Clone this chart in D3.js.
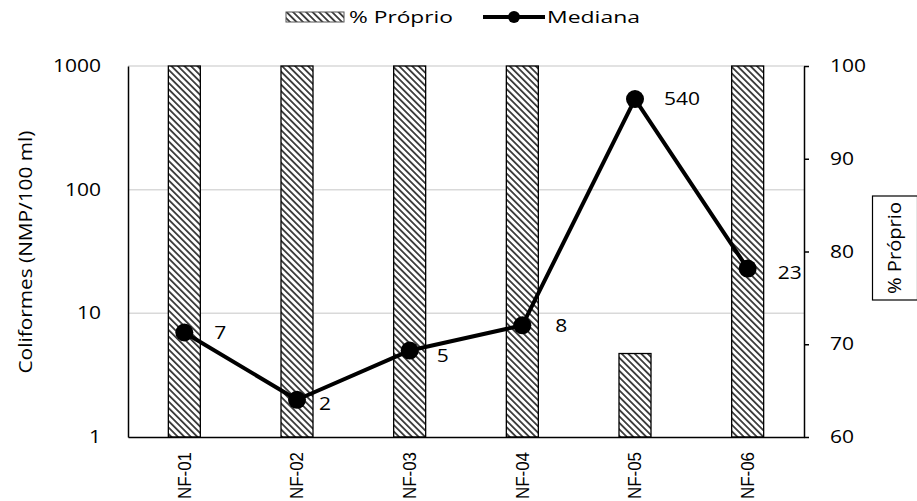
<!DOCTYPE html>
<html>
<head>
<meta charset="utf-8">
<script src="https://cdn.jsdelivr.net/npm/d3@7"></script>
<style>
  body { margin: 0; background: #fff; }
  svg { display: block; }
</style>
</head>
<body>
<svg id="chart" width="917" height="501"></svg>
<script>
// Sampling points
const categories = ["NF-01", "NF-02", "NF-03", "NF-04", "NF-05", "NF-06"];
// Share of samples within standard (%)
const proprio = [100, 100, 100, 100, 69, 100];
// Median coliforms (NMP/100 ml)
const mediana = [7, 2, 5, 8, 540, 23];
const leftTicks = [1, 10, 100, 1000];
const rightTicks = [60, 70, 80, 90, 100];

const svg = d3.select("#chart");
const m = { left: 128, right: 804, top: 66, bottom: 437 };
const SX = 1.2; // horizontal stretch of the numeric labels
const NUM_FONT = "Open Sans";
const NUM_SIZE = 17.5;

const x = d3.scaleBand().domain(categories).range([m.left, m.right]).paddingInner(0.716).paddingOuter(0.358);
const yL = d3.scaleLog().domain([1, 1000]).range([m.bottom, m.top]);
const yR = d3.scaleLinear().domain([60, 100]).range([m.bottom, m.top]);

// widen text horizontally while keeping its anchor position
function stretch(sel) {
  sel.each(function () {
    const t = d3.select(this);
    const x0 = +t.attr("x") || 0;
    t.attr("x", x0 / SX).attr("transform", `scale(${SX},1)`);
  });
}

// Hatch fill for the bars
const defs = svg.append("defs");
const pat = defs.append("pattern")
  .attr("id", "hatch").attr("patternUnits", "userSpaceOnUse")
  .attr("width", 4.6).attr("height", 4.6)
  .attr("patternTransform", "rotate(-45)");
pat.append("rect").attr("width", 4.6).attr("height", 4.6).attr("fill", "#fff");
pat.append("rect").attr("x", 0).attr("y", 0).attr("width", 1.8).attr("height", 4.6).attr("fill", "#3a3a3a");

// Gridlines
svg.append("g").selectAll("line").data(leftTicks.slice(1)).join("line")
  .attr("x1", m.left).attr("x2", m.right)
  .attr("y1", d => yL(d)).attr("y2", d => yL(d))
  .attr("stroke", "#d9d9d9").attr("stroke-width", 1.5);

// Bars
svg.append("g").selectAll("rect").data(categories).join("rect")
  .attr("x", d => x(d)).attr("width", x.bandwidth())
  .attr("y", (d, i) => yR(proprio[i]))
  .attr("height", (d, i) => yR(60) - yR(proprio[i]))
  .attr("fill", "url(#hatch)").attr("stroke", "#000").attr("stroke-width", 1.3);

// Left axis
const gL = svg.append("g").attr("transform", `translate(${m.left},0)`)
  .call(d3.axisLeft(yL).tickValues(leftTicks).tickFormat(d3.format("d")).tickSize(0).tickPadding(27));
gL.select(".domain").attr("stroke", "#000").attr("stroke-width", 1.5);
gL.selectAll("text").attr("font-family", NUM_FONT).attr("font-size", NUM_SIZE).attr("fill", "#000").call(stretch);

// Right axis
const gR = svg.append("g").attr("transform", `translate(${m.right},0)`)
  .call(d3.axisRight(yR).tickValues(rightTicks).tickSize(5).tickPadding(21).tickSizeOuter(0));
gR.select(".domain").attr("stroke", "#000").attr("stroke-width", 1.5);
gR.selectAll("line").attr("stroke", "#000").attr("stroke-width", 1.5);
gR.selectAll("text").attr("font-family", NUM_FONT).attr("font-size", NUM_SIZE).attr("fill", "#000").call(stretch);

// Bottom axis
const gB = svg.append("g").attr("transform", `translate(0,${m.bottom})`)
  .call(d3.axisBottom(x).tickSize(0).tickPadding(0));
gB.select(".domain").attr("stroke", "#000").attr("stroke-width", 1.5);
gB.selectAll("text")
  .attr("font-family", "Liberation Sans").attr("font-size", 18.5).attr("fill", "#000")
  .attr("transform", "rotate(-90)").attr("text-anchor", "end")
  .attr("x", -15).attr("y", 0).attr("dy", "0.35em")
  .attr("textLength", 47).attr("lengthAdjust", "spacingAndGlyphs");

// Median line
const cx = d => x(d) + x.bandwidth() / 2;
svg.append("path")
  .datum(categories)
  .attr("d", d3.line().x(d => cx(d)).y((d, i) => yL(mediana[i])))
  .attr("fill", "none").attr("stroke", "#000").attr("stroke-width", 4).attr("stroke-linejoin", "round");
svg.append("g").selectAll("circle").data(categories).join("circle")
  .attr("cx", d => cx(d)).attr("cy", (d, i) => yL(mediana[i])).attr("r", 9).attr("fill", "#000");

// Value labels
const labelOffsets = [[30, 0], [22, 4], [27, 5], [33, 1], [29, 0], [30, 4]];
svg.append("g").selectAll("text").data(categories).join("text")
  .attr("x", (d, i) => cx(d) + labelOffsets[i][0])
  .attr("y", (d, i) => yL(mediana[i]) + labelOffsets[i][1])
  .attr("dy", "0.35em")
  .attr("font-family", NUM_FONT).attr("font-size", NUM_SIZE).attr("fill", "#000")
  .text((d, i) => mediana[i])
  .call(stretch);

// Axis titles
svg.append("text")
  .attr("transform", `translate(26,252) rotate(-90)`)
  .attr("text-anchor", "middle").attr("dy", "0.35em")
  .attr("font-family", "Open Sans").attr("font-size", 18.5).attr("fill", "#000")
  .attr("textLength", 243).attr("lengthAdjust", "spacingAndGlyphs")
  .text("Coliformes (NMP/100 ml)");

const rt = svg.append("g").attr("transform", `translate(895,248) rotate(-90)`);
rt.append("rect").attr("x", -52).attr("y", -22.5).attr("width", 104).attr("height", 45)
  .attr("fill", "#fff").attr("stroke", "#000").attr("stroke-width", 1.2);
rt.append("text").attr("text-anchor", "middle").attr("dy", "0.35em")
  .attr("font-family", "Open Sans").attr("font-size", 18).attr("fill", "#000")
  .attr("textLength", 92).attr("lengthAdjust", "spacingAndGlyphs")
  .text("% Próprio");

// Legend
const lg = svg.append("g").attr("font-family", "Open Sans").attr("font-size", 17).attr("fill", "#000");
lg.append("rect").attr("x", 286).attr("y", 12).attr("width", 58).attr("height", 10)
  .attr("fill", "url(#hatch)").attr("stroke", "#555").attr("stroke-width", 1);
lg.append("text").attr("x", 349).attr("y", 17).attr("dy", "0.35em")
  .attr("textLength", 104).attr("lengthAdjust", "spacingAndGlyphs").text("% Próprio");
lg.append("line").attr("x1", 483).attr("x2", 545).attr("y1", 17).attr("y2", 17)
  .attr("stroke", "#000").attr("stroke-width", 4);
lg.append("circle").attr("cx", 514).attr("cy", 17).attr("r", 6).attr("fill", "#000");
lg.append("text").attr("x", 547).attr("y", 17).attr("dy", "0.35em")
  .attr("textLength", 93).attr("lengthAdjust", "spacingAndGlyphs").text("Mediana");
</script>
</body>
</html>
